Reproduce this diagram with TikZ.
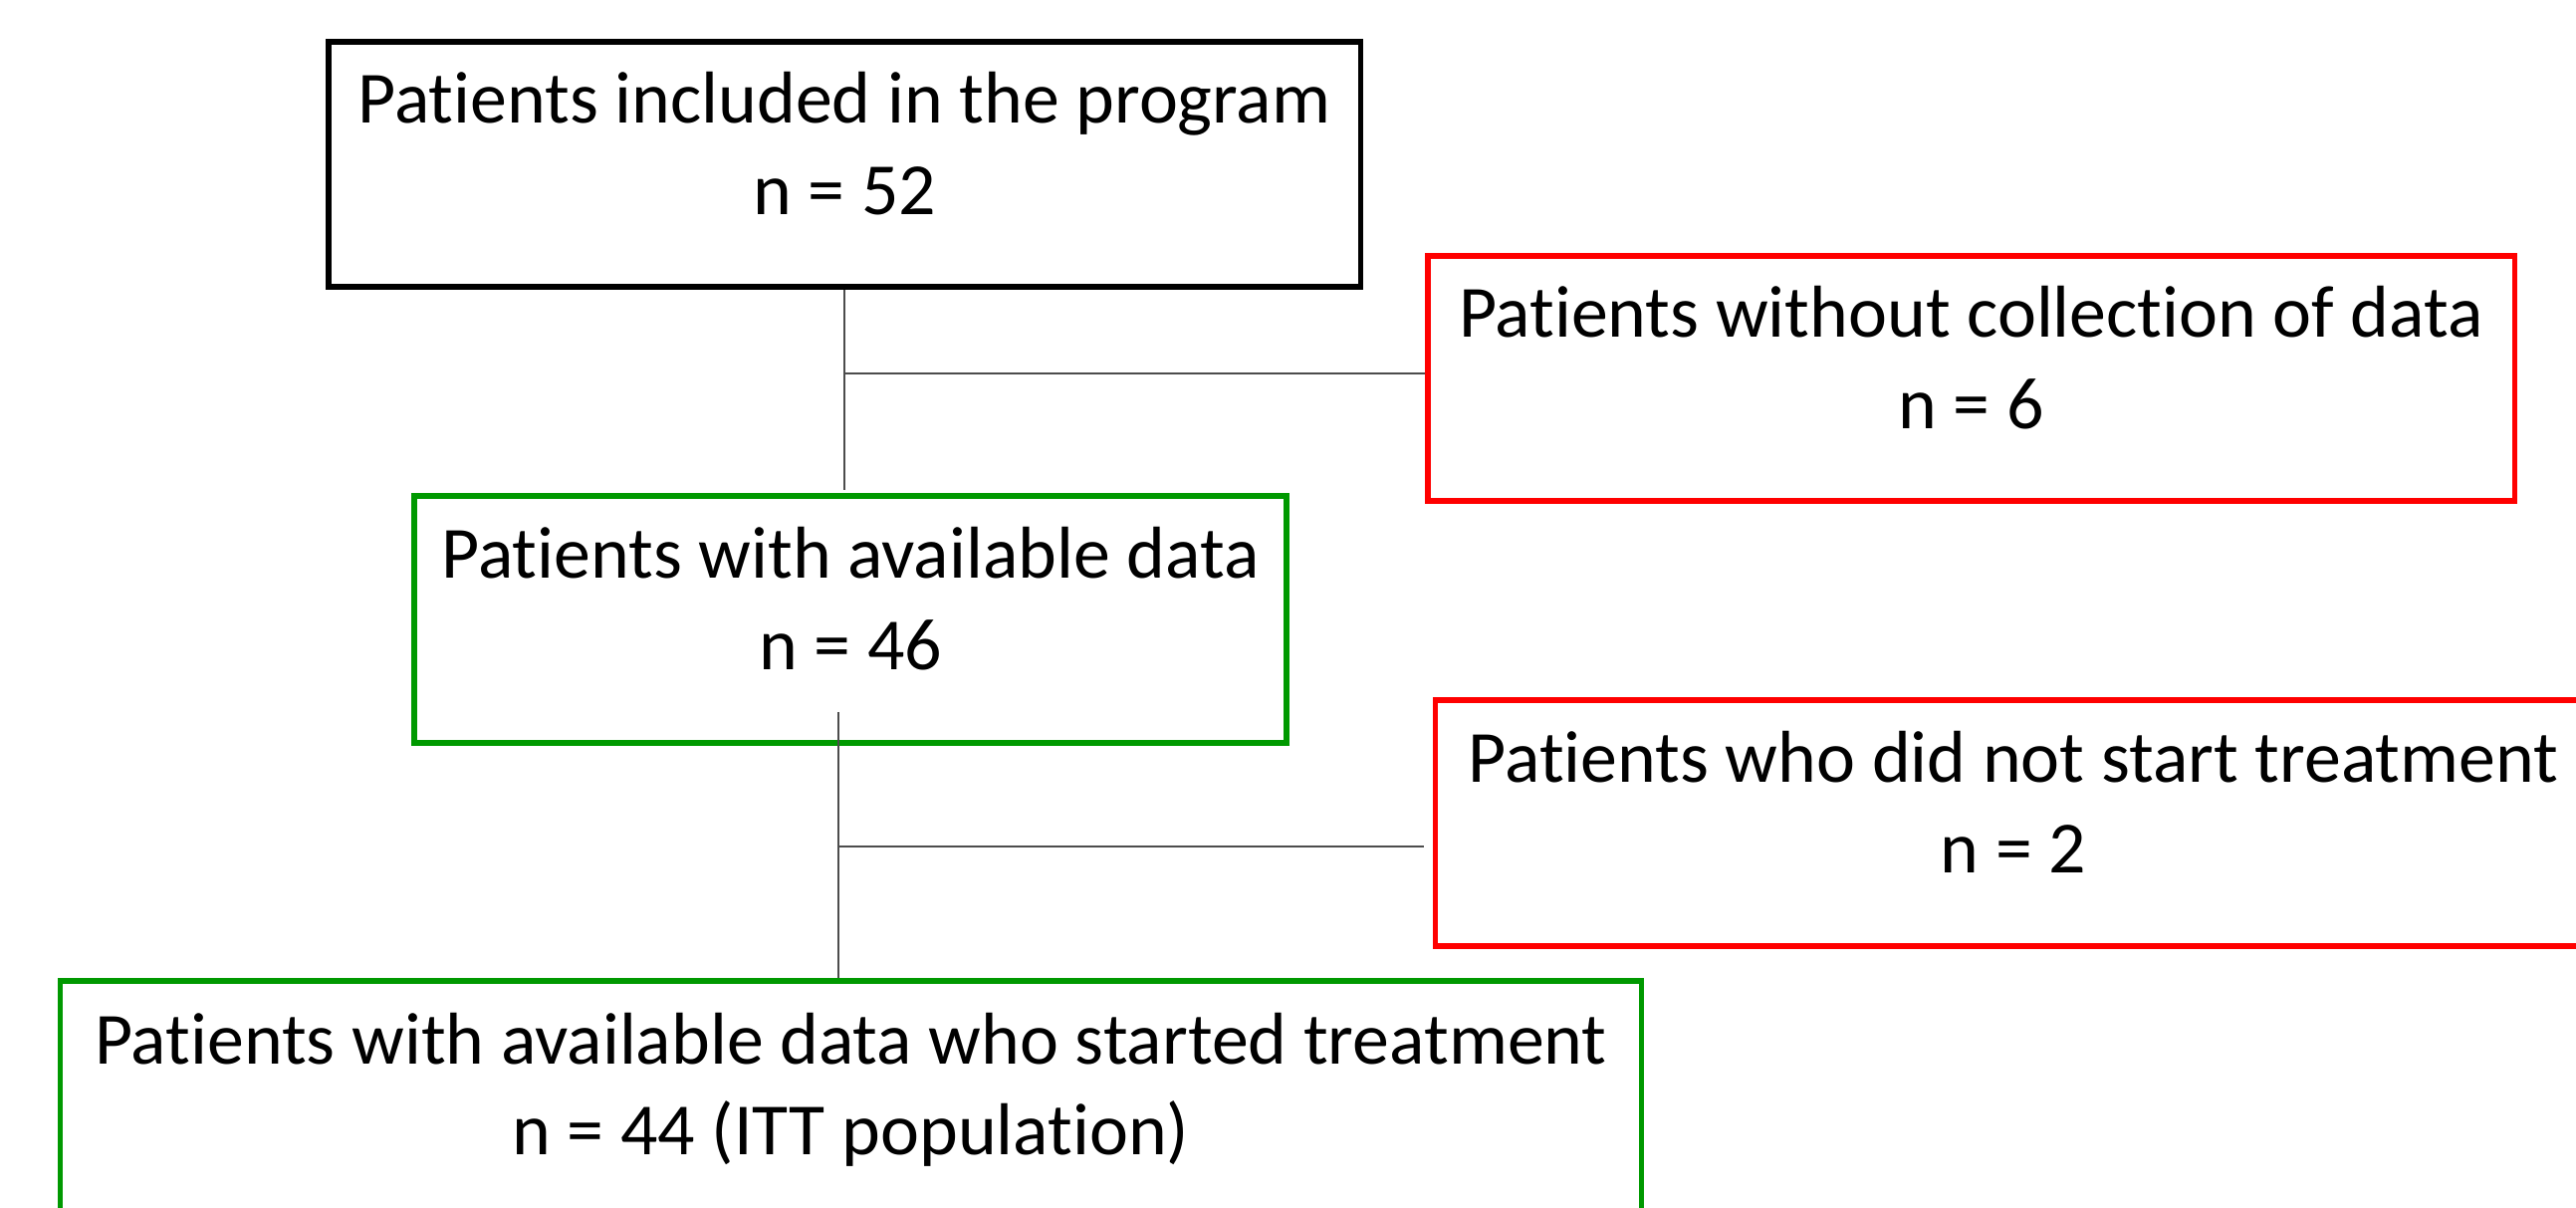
\documentclass[tikz,border=0pt]{standalone}
\usepackage{fontspec}
\setmainfont{Carlito}[RawFeature={-liga,-calt,-clig}]
\usepackage{xcolor}
\definecolor{boxgreen}{RGB}{0,153,0}
\definecolor{boxred}{RGB}{255,0,0}

\begin{document}
\begin{tikzpicture}[x=0.01cm, y=-0.01cm,
	box/.style={draw, line width=1.6pt, align=center, inner sep=0pt, text depth=12pt,
		font=\fontsize{21}{25.9}\selectfont},
	link/.style={draw=black!70, line width=0.5pt}]
	\useasboundingbox (0,0) rectangle (2587,1213);
	\clip (0,0) rectangle (2587,1213);
	% linke spalte, kaestchen
	\node[box, minimum width=10.36cm, minimum height=2.46cm] (included) at (848,165) {Patients included in the program\\n = 52};
	\node[box, draw=boxgreen, minimum width=8.76cm, minimum height=2.48cm] (available) at (854,622) {Patients with available data\\n = 46};
	\node[box, draw=boxgreen, minimum width=15.87cm, minimum height=2.48cm] (itt) at (854.5,1109) {Patients with available data who started treatment\\n = 44 (ITT population)};
	% rechte spalte, ausgeschiedene
	\node[box, draw=boxred, minimum width=10.91cm, minimum height=2.46cm] (nodata) at (1979.5,380) {Patients without collection of data\\n = 6};
	\node[box, draw=boxred, minimum width=11.60cm, minimum height=2.47cm] (nostart) at (2022,826.5) {Patients who did not start treatment\\n = 2};
	% erste verzweigung
	\coordinate (gap1) at (848,492);
	\draw[link] (included.south) -- (gap1);
	\draw[link] (included.south |- 0,375) -- (nodata.west |- 0,375);
	% zweite verzweigung
	\coordinate (split2) at (842,715);
	\coordinate (join2) at (842,850);
	\coordinate (end2) at (1430,850);
	\draw[link] (split2) -- (split2 |- itt.north);
	\draw[link] (join2) -- (end2);
\end{tikzpicture}
\end{document}
